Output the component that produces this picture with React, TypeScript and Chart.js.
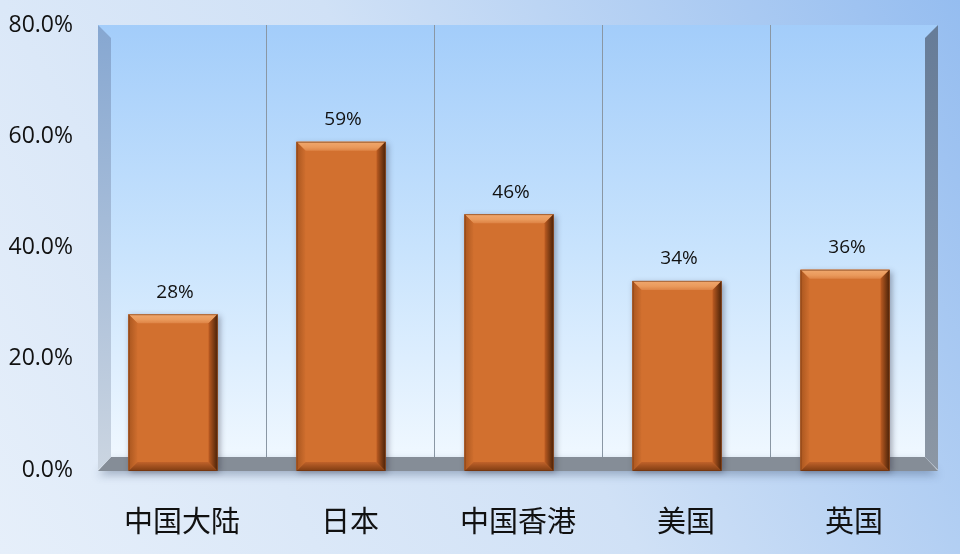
import React, { useEffect, useRef } from 'react';
import { Chart, registerables } from 'chart.js';

Chart.register(...registerables);

const categories = ['中国大陆', '日本', '中国香港', '美国', '英国'];
const values = [28, 59, 46, 34, 36];
const yTicks = [0, 20, 40, 60, 80];

const DEPTH = 13;
const BAR_SHIFT = -9;
const BEVEL = 9;

export default function App() {
  const ref = useRef<HTMLCanvasElement>(null);

  useEffect(() => {
    document.body.style.margin = '0';
    const canvas = ref.current!;

    const backdrop = {
      id: 'backdrop',
      beforeDraw(chart: any) {
        const { ctx, width, height, chartArea: a } = chart;
        ctx.save();
        const g = ctx.createLinearGradient(0, height, width, 0);
        g.addColorStop(0, '#e6effa');
        g.addColorStop(0.5, '#d0e1f6');
        g.addColorStop(1, '#95bdf0');
        ctx.fillStyle = g;
        ctx.fillRect(0, 0, width, height);
        const w = ctx.createLinearGradient(0, a.top, 0, a.bottom);
        w.addColorStop(0, '#a3cdfa');
        w.addColorStop(0.5, '#c8e3fd');
        w.addColorStop(1, '#f2f9ff');
        ctx.fillStyle = w;
        ctx.fillRect(a.left, a.top, a.right - a.left, a.bottom - a.top);
        ctx.restore();
      },
    };

    const walls = {
      id: 'walls',
      beforeDatasetsDraw(chart: any) {
        const { ctx, chartArea: a } = chart;
        const L = a.left, R = a.right, T = a.top, B = a.bottom, D = DEPTH;
        ctx.save();
        // floor with shadow
        ctx.shadowColor = 'rgba(50,70,100,0.35)';
        ctx.shadowBlur = 8;
        ctx.shadowOffsetY = 4;
        ctx.beginPath();
        ctx.moveTo(L + D, B - D);
        ctx.lineTo(R - D, B - D);
        ctx.lineTo(R, B + 1);
        ctx.lineTo(L, B + 1);
        ctx.closePath();
        ctx.fillStyle = '#858d97';
        ctx.fill();
        ctx.shadowColor = 'transparent';
        // left wall
        const lg = ctx.createLinearGradient(0, T, 0, B);
        lg.addColorStop(0, '#86a7d1');
        lg.addColorStop(1, '#cbd5e1');
        ctx.beginPath();
        ctx.moveTo(L, T);
        ctx.lineTo(L + D, T + D);
        ctx.lineTo(L + D, B - D);
        ctx.lineTo(L, B);
        ctx.closePath();
        ctx.fillStyle = lg;
        ctx.fill();
        // right wall
        const rg = ctx.createLinearGradient(0, T, 0, B);
        rg.addColorStop(0, '#667c98');
        rg.addColorStop(1, '#8c97a4');
        ctx.beginPath();
        ctx.moveTo(R, T);
        ctx.lineTo(R, B);
        ctx.lineTo(R - D, B - D);
        ctx.lineTo(R - D, T + D);
        ctx.closePath();
        ctx.fillStyle = rg;
        ctx.fill();
        ctx.restore();

        // bars shifted (perspective) + shadow
        ctx.save();
        ctx.translate(BAR_SHIFT, 0);
        const meta = chart.getDatasetMeta(0);
        ctx.save();
        ctx.shadowColor = 'rgba(40,40,60,0.4)';
        ctx.shadowBlur = 6;
        ctx.shadowOffsetX = 2;
        ctx.shadowOffsetY = 2;
        ctx.fillStyle = '#d2702f';
        meta.data.forEach((el: any) => {
          const { x, y, base, width } = el.getProps(['x', 'y', 'base', 'width'], true);
          ctx.fillRect(x - width / 2, y, width, base - y);
        });
        ctx.restore();
      },
      afterDatasetsDraw(chart: any) {
        const { ctx } = chart;
        const meta = chart.getDatasetMeta(0);
        const b = BEVEL;
        meta.data.forEach((el: any, i: number) => {
          const { x, y, base, width } = el.getProps(['x', 'y', 'base', 'width'], true);
          const l = x - width / 2, r = x + width / 2, t = y, bt = base + 1;
          // top bevel
          const tg = ctx.createLinearGradient(0, t, 0, t + b);
          tg.addColorStop(0, '#f0a86e');
          tg.addColorStop(0.6, '#ea9a5c');
          tg.addColorStop(1, '#de8446');
          ctx.beginPath();
          ctx.moveTo(l, t); ctx.lineTo(r, t); ctx.lineTo(r - b, t + b); ctx.lineTo(l + b, t + b); ctx.closePath();
          ctx.fillStyle = tg; ctx.fill();
          // left bevel
          const lg = ctx.createLinearGradient(l, 0, l + b, 0);
          lg.addColorStop(0, '#a9561f');
          lg.addColorStop(1, '#cf6e2e');
          ctx.beginPath();
          ctx.moveTo(l, t); ctx.lineTo(l + b, t + b); ctx.lineTo(l + b, bt - b); ctx.lineTo(l, bt); ctx.closePath();
          ctx.fillStyle = lg; ctx.fill();
          // bottom bevel
          const bg = ctx.createLinearGradient(0, bt - b, 0, bt);
          bg.addColorStop(0, '#c0622a');
          bg.addColorStop(1, '#7e3c12');
          ctx.beginPath();
          ctx.moveTo(l, bt); ctx.lineTo(l + b, bt - b); ctx.lineTo(r - b, bt - b); ctx.lineTo(r, bt); ctx.closePath();
          ctx.fillStyle = bg; ctx.fill();
          // right bevel
          const rg = ctx.createLinearGradient(r - b, 0, r, 0);
          rg.addColorStop(0, '#bd5c22');
          rg.addColorStop(1, '#4a2208');
          ctx.beginPath();
          ctx.moveTo(r, t); ctx.lineTo(r, bt); ctx.lineTo(r - b, bt - b); ctx.lineTo(r - b, t + b); ctx.closePath();
          ctx.fillStyle = rg; ctx.fill();
          // outline
          ctx.strokeStyle = 'rgba(110,50,12,0.55)';
          ctx.lineWidth = 1;
          ctx.strokeRect(l + 0.5, t + 0.5, width - 1, bt - t - 1);
          // value label
          ctx.fillStyle = '#111111';
          ctx.font = '500 19px "Open Sans"';
          ctx.textAlign = 'center';
          ctx.textBaseline = 'middle';
          ctx.fillText(values[i] + '%', x + 2, t - 22);
        });
        ctx.restore();
      },
    };

    const chart = new Chart(canvas, {
      type: 'bar',
      data: {
        labels: categories,
        datasets: [
          {
            data: values,
            backgroundColor: '#d2702f',
            borderWidth: 0,
            barPercentage: 0.53,
            categoryPercentage: 1,
            clip: false as any,
          },
        ],
      },
      options: {
        responsive: false,
        animation: false,
        devicePixelRatio: 1,
        layout: { padding: { top: 25, right: 22, left: 0, bottom: 0 } },
        plugins: { legend: { display: false }, tooltip: { enabled: false } },
        scales: {
          x: {
            type: 'category',
            grid: {
              offset: true,
              drawTicks: false,
              color: (c: any) => (c.index === 0 || c.index === undefined ? 'rgba(0,0,0,0)' : '#8a97a4'),
              lineWidth: 1,
            },
            border: { display: false },
            ticks: {
              color: '#111111',
              font: { family: '"Noto Sans CJK SC"', size: 29 },
              padding: 34,
            },
            afterFit: (s: any) => { s.height = 84; },
          },
          y: {
            min: 0,
            max: 80,
            grid: { display: false, drawTicks: false },
            border: { display: false },
            afterBuildTicks: (s: any) => { s.ticks = yTicks.map((v) => ({ value: v })); },
            ticks: {
              color: '#111111',
              font: { family: '"Open Sans"', size: 23 },
              padding: 25,
              callback: (v: any) => Number(v).toFixed(1) + '%',
            },
            afterFit: (s: any) => {
              s.width = 98;
              s.paddingTop = 0;
              s.paddingBottom = 0;
            },
          },
        },
      },
      plugins: [backdrop, walls],
    });

    return () => chart.destroy();
  }, []);

  return (
    <canvas
      ref={ref}
      width={960}
      height={554}
      style={{ display: 'block', width: 960, height: 554 }}
    />
  );
}
